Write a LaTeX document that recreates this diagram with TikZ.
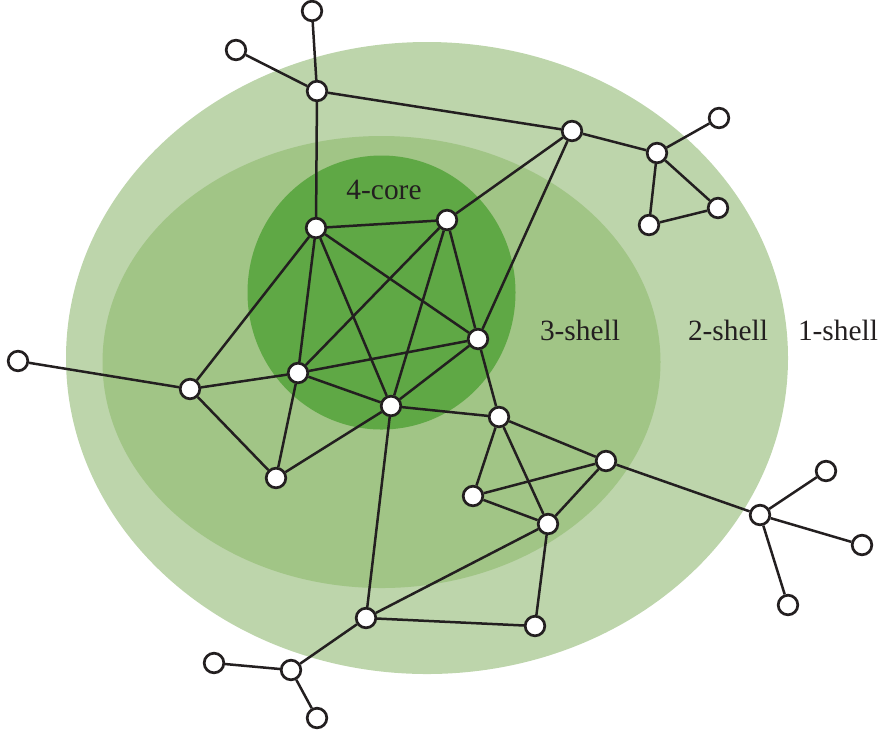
\documentclass[tikz,border=0pt]{standalone}
\usepackage{fontspec}
\setmainfont{Liberation Serif}
\definecolor{shellone}{HTML}{BDD5AB}
\definecolor{shelltwo}{HTML}{A1C586}
\definecolor{coreg}{HTML}{5FA845}
\definecolor{ink}{HTML}{231F20}
\begin{document}
\begin{tikzpicture}[x=0.5pt,y=-0.5pt,
  vtx/.style={circle,draw=ink,fill=white,line width=1.35pt,minimum size=9.8pt,inner sep=0pt},
  edge/.style={draw=ink,line width=1.25pt},
  lbl/.style={text=ink,font=\fontsize{14.7}{16}\selectfont}]
\useasboundingbox (0,0) rectangle (882,736);
\fill[shellone] (427,358) ellipse [x radius=180.5pt, y radius=158pt];
\fill[shelltwo] (381.5,362) ellipse [x radius=139.5pt, y radius=113pt];
\fill[coreg] (381.5,292.5) ellipse [x radius=67pt, y radius=68.5pt];
\node[lbl] (tcore) at (384,190) {4-core};
\node[lbl] (tthree) at (580,330) {3-shell};
\node[lbl] (ttwo) at (728,330) {2-shell};
\node[lbl] (tone) at (838,330) {1-shell};
\node[vtx] (n1) at (312,11) {};
\node[vtx] (n2) at (236,50) {};
\node[vtx] (n3) at (317,91) {};
\node[vtx] (n4) at (572,131) {};
\node[vtx] (n5) at (719,118) {};
\node[vtx] (n6) at (657,153) {};
\node[vtx] (n7) at (649,225) {};
\node[vtx] (n8) at (718,208) {};
\node[vtx] (n9) at (447,220) {};
\node[vtx] (n10) at (316,228) {};
\node[vtx] (n11) at (478,339) {};
\node[vtx] (n12) at (18,361) {};
\node[vtx] (n13) at (190,389) {};
\node[vtx] (n14) at (298,373) {};
\node[vtx] (n15) at (391,406) {};
\node[vtx] (n16) at (499,417) {};
\node[vtx] (n17) at (606,461) {};
\node[vtx] (n18) at (473,496) {};
\node[vtx] (n19) at (548,524) {};
\node[vtx] (n20) at (276,478) {};
\node[vtx] (n21) at (826,471) {};
\node[vtx] (n22) at (760,515) {};
\node[vtx] (n23) at (862,545) {};
\node[vtx] (n24) at (788,605) {};
\node[vtx] (n25) at (366,618) {};
\node[vtx] (n26) at (535,626) {};
\node[vtx] (n27) at (214,663) {};
\node[vtx] (n28) at (291,670) {};
\node[vtx] (n29) at (317,718) {};
\foreach \a/\b in {n1/n3,n2/n3,n3/n4,n3/n10,n4/n6,n4/n9,n4/n11,n6/n5,n6/n7,n6/n8,n7/n8,
  n10/n9,n10/n11,n10/n13,n10/n14,n10/n15,n9/n14,n9/n15,n9/n11,n14/n11,n15/n11,n11/n16,
  n14/n13,n14/n15,n14/n20,n13/n20,n12/n13,n15/n20,n15/n16,n15/n25,n16/n17,n16/n18,n16/n19,
  n18/n17,n18/n19,n17/n19,n17/n22,n22/n21,n22/n23,n22/n24,n19/n25,n19/n26,n25/n26,n25/n28,
  n28/n27,n28/n29}
  \draw[edge] (\a) -- (\b);
\end{tikzpicture}
\end{document}
